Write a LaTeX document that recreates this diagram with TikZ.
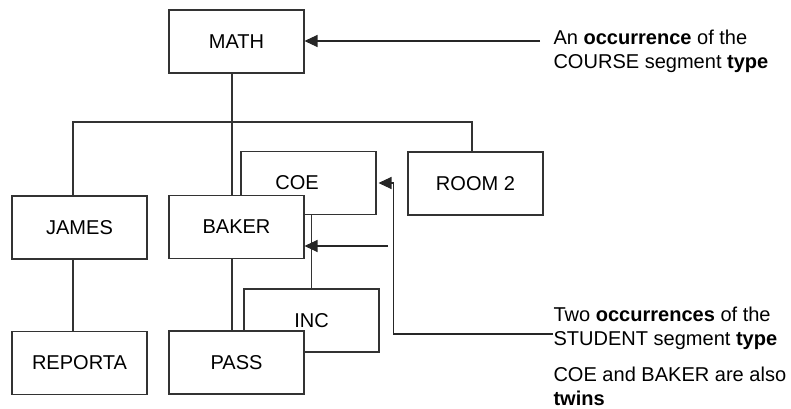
\documentclass[tikz,border=0pt]{standalone}
\usepackage{fontspec}
\setmainfont{Liberation Sans}
\usetikzlibrary{arrows.meta}

\begin{document}
\begin{tikzpicture}[x=0.02cm, y=-0.02cm, line width=0.6pt,
  every node/.style={font=\fontsize{11.4}{13.8}\selectfont},
  seg/.style={draw=black!80, fill=white, minimum width=2.7cm, minimum height=1.26cm, inner sep=0pt},
  note/.style={anchor=north west, align=left, inner sep=0pt},
  arr/.style={draw=black!85, -{Triangle[length=0.26cm, width=0.24cm]}}]

\useasboundingbox (0,0) rectangle (791,409);

%Twin Segments (behind)

\node [seg, label={[xshift=-0.23cm]center:COE}] (coe) at (308.5,183) {};
\node [seg] (inc) at (311.5,320.5) {INC};

%Segment Occurrences

\node [seg] (math) at (236.5,41.5) {MATH};
\node [seg] (room) at (475.5,183.5) {ROOM 2};
\node [seg] (james) at (79.5,227.5) {JAMES};
\node [seg] (baker) at (236.5,227) {BAKER};
\node [seg] (reporta) at (79.5,363) {REPORTA};
\node [seg] (pass) at (236.5,362.5) {PASS};

%Tree Lines

\coordinate (bus) at (232,122);
\draw [black!80] ([xshift=-0.09cm]math.south) -- ([xshift=-0.09cm]baker.north);
\draw [black!80] ([xshift=-0.13cm]james.north) |- (bus) -| ([xshift=-0.07cm]room.north);
\draw [black!80] ([xshift=-0.13cm]james.south) -- ([xshift=-0.13cm]reporta.north);
\draw [black!80] ([xshift=-0.09cm]baker.south) -- ([xshift=-0.09cm]pass.north);
\draw [black!80] (inc.north |- coe.south) -- (inc.north);

%Notes

\node [note] (occ1) at (553,29) {An \textbf{occurrence} of the\\COURSE segment \textbf{type}};
\node [note] (occ2) at (553,306) {Two \textbf{occurrences} of the\\STUDENT segment \textbf{type}};
\node [note] (twin) at (553,366) {COE and BAKER are also\\\textbf{twins}};

%Pointer Arrows

\coordinate (t1) at (540,41);
\coordinate (t2) at (388,246);
\coordinate (t3) at (553,334);
\draw [arr] (t1) -- (t1 -| math.east);
\draw [arr] (t2) -- (t2 -| baker.east);
\draw [arr] (t3) -| ([xshift=0.34cm]coe.east) -- ([xshift=0.04cm]coe.east);

\end{tikzpicture}
\end{document}
